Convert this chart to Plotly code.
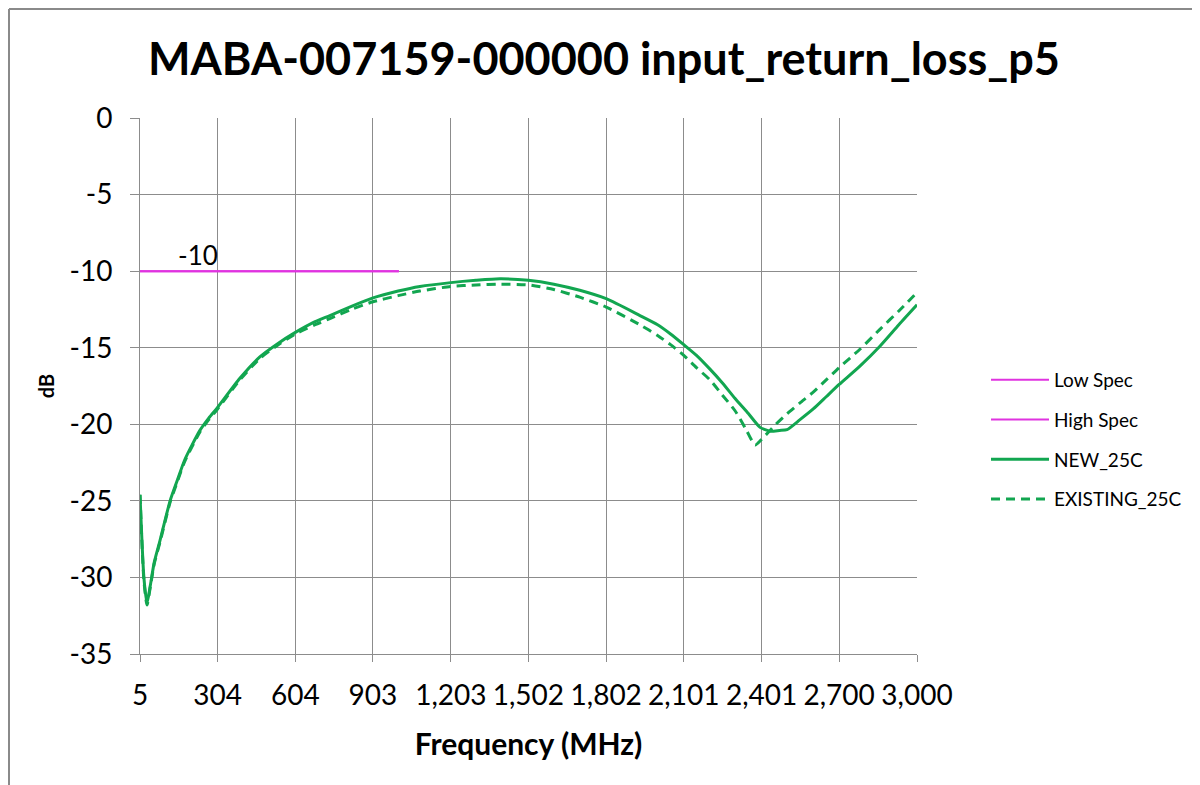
import plotly.graph_objects as go

# ---- data ----
spec_freq = [5, 1003]
low_spec = [-10, -10]
high_spec = [-10, -10]

new_freq = [5, 20, 32, 45, 60, 82, 121, 150, 178, 236, 270, 304, 390, 467, 530,
            604, 680, 737, 820, 903, 1000, 1084, 1203, 1300, 1393, 1502, 1600,
            1700, 1802, 1932, 2000, 2050, 2101, 2150, 2202, 2250, 2298, 2350,
            2395, 2434, 2470, 2499, 2549, 2600, 2650, 2700, 2780, 2857, 2930, 3000]
new_25c = [-24.6, -30.0, -31.7, -30.5, -29.0, -27.6, -25.0, -23.6, -22.3, -20.4,
           -19.6, -18.9, -17.0, -15.6, -14.8, -14.0, -13.3, -12.9, -12.3, -11.75,
           -11.3, -11.0, -10.75, -10.6, -10.5, -10.6, -10.85, -11.25, -11.8, -12.9,
           -13.5, -14.1, -14.8, -15.5, -16.4, -17.3, -18.3, -19.3, -20.2, -20.45,
           -20.4, -20.35, -19.7, -19.0, -18.2, -17.4, -16.2, -14.9, -13.5, -12.2]

ex_freq = [5, 20, 32, 45, 60, 82, 121, 150, 178, 236, 270, 304, 390, 467, 530,
           604, 680, 737, 820, 903, 1000, 1084, 1203, 1300, 1393, 1502, 1600,
           1700, 1802, 1932, 2000, 2050, 2101, 2150, 2202, 2250, 2298, 2340,
           2376, 2400, 2453, 2500, 2549, 2600, 2650, 2700, 2780, 2857, 2930, 3000]
existing_25c = [-24.6, -30.2, -31.8, -30.6, -29.1, -27.7, -25.1, -23.7, -22.4, -20.5,
                -19.7, -19.0, -17.1, -15.7, -14.9, -14.1, -13.5, -13.1, -12.5, -12.0,
                -11.6, -11.3, -11.0, -10.9, -10.85, -10.9, -11.2, -11.7, -12.35,
                -13.5, -14.2, -14.8, -15.5, -16.3, -17.1, -18.1, -19.1, -20.3,
                -21.35, -21.0, -20.05, -19.3, -18.6, -17.9, -17.1, -16.3, -15.1,
                -13.8, -12.6, -11.4]

x_ticks = [5, 304, 604, 903, 1203, 1502, 1802, 2101, 2401, 2700, 3000]
x_tick_text = ["5", "304", "604", "903", "1,203", "1,502", "1,802", "2,101",
               "2,401", "2,700", "3,000"]
y_ticks = [0, -5, -10, -15, -20, -25, -30, -35]
y_tick_text = ["0", "-5", "-10", "-15", "-20", "-25", "-30", "-35"]

PINK = "#E033E0"
GREEN = "#12A650"
GRID = "#8C8C8C"
FONT = "Lato"

# page has an 8px body margin: work in page pixels and convert
OFF = 8
W, H = 1200 - OFF, 785 - OFF
L, T, PW, PH = 140 - OFF, 118 - OFF, 777, 536

fig = go.Figure()
fig.add_trace(go.Scatter(x=spec_freq, y=low_spec, mode="lines", name="Low Spec",
                         legendgroup="a", line=dict(color=PINK, width=2)))
fig.add_trace(go.Scatter(x=spec_freq, y=high_spec, mode="lines", name="High Spec",
                         legendgroup="b", line=dict(color=PINK, width=2)))
fig.add_trace(go.Scatter(x=new_freq, y=new_25c, mode="lines", name="NEW_25C",
                         legendgroup="c", line=dict(color=GREEN, width=3, shape="spline", smoothing=0.6)))
fig.add_trace(go.Scatter(x=ex_freq, y=existing_25c, mode="lines", name="EXISTING_25C",
                         legendgroup="d", line=dict(color=GREEN, width=3, dash="9px,6px",
                                                   shape="spline", smoothing=0.6)))

fig.add_annotation(x=spec_freq[0], y=low_spec[0], xref="x", yref="y",
                   text=str(low_spec[0]), showarrow=False,
                   xanchor="left", yanchor="bottom", xshift=36, yshift=-2,
                   font=dict(family=FONT, size=26, color="#000"))


def px_x(p):
    return (p - OFF - L) / PW


def px_y(p):
    return (T + PH - (p - OFF)) / PH


fig.add_shape(type="line", xref="paper", yref="paper",
              x0=px_x(9), x1=px_x(1210), y0=px_y(9), y1=px_y(9),
              line=dict(color="#8A8A8A", width=2))
fig.add_shape(type="line", xref="paper", yref="paper",
              x0=px_x(9), x1=px_x(9), y0=px_y(9), y1=px_y(800),
              line=dict(color="#8A8A8A", width=2))

fig.update_layout(
    width=W, height=H,
    margin=dict(l=L, r=W - L - PW, t=T, b=H - T - PH, autoexpand=False),
    paper_bgcolor="white", plot_bgcolor="white",
    font=dict(family=FONT, color="#000"),
    title=dict(text="<b>MABA-007159-000000 input_return_loss_p5</b>",
               x=(604 - OFF) / W, xref="container", xanchor="center",
               y=1 - (59 - OFF) / H, yref="container", yanchor="middle",
               font=dict(family=FONT, size=45, color="#000")),
    showlegend=True,
    legend=dict(x=px_x(986), xanchor="left", y=px_y(361), yanchor="top",
                traceorder="grouped", tracegroupgap=12,
                font=dict(family=FONT, size=19, color="#000"),
                itemwidth=58, bgcolor="rgba(0,0,0,0)"),
    xaxis=dict(range=[5, 3000], tickvals=x_ticks, ticktext=x_tick_text,
               showgrid=True, gridcolor=GRID, gridwidth=1,
               showline=True, linecolor=GRID, linewidth=1, mirror=False,
               ticks="outside", ticklen=7, tickcolor=GRID,
               ticklabelstandoff=9,
               tickfont=dict(family=FONT, size=28, color="#000"),
               title=dict(text="<b>Frequency (MHz)</b>", standoff=24,
                          font=dict(family=FONT, size=30, color="#000")),
               zeroline=False),
    yaxis=dict(range=[-35, 0], tickvals=y_ticks, ticktext=y_tick_text,
               showgrid=True, gridcolor=GRID, gridwidth=1,
               showline=True, linecolor=GRID, linewidth=1,
               ticks="outside", ticklen=9, tickcolor=GRID,
               ticklabelstandoff=12,
               tickfont=dict(family=FONT, size=28, color="#000"),
               title=dict(text="<b>dB</b>", standoff=9,
                          font=dict(family=FONT, size=20, color="#000")),
               zeroline=False),
)

fig.write_html("out.html")
